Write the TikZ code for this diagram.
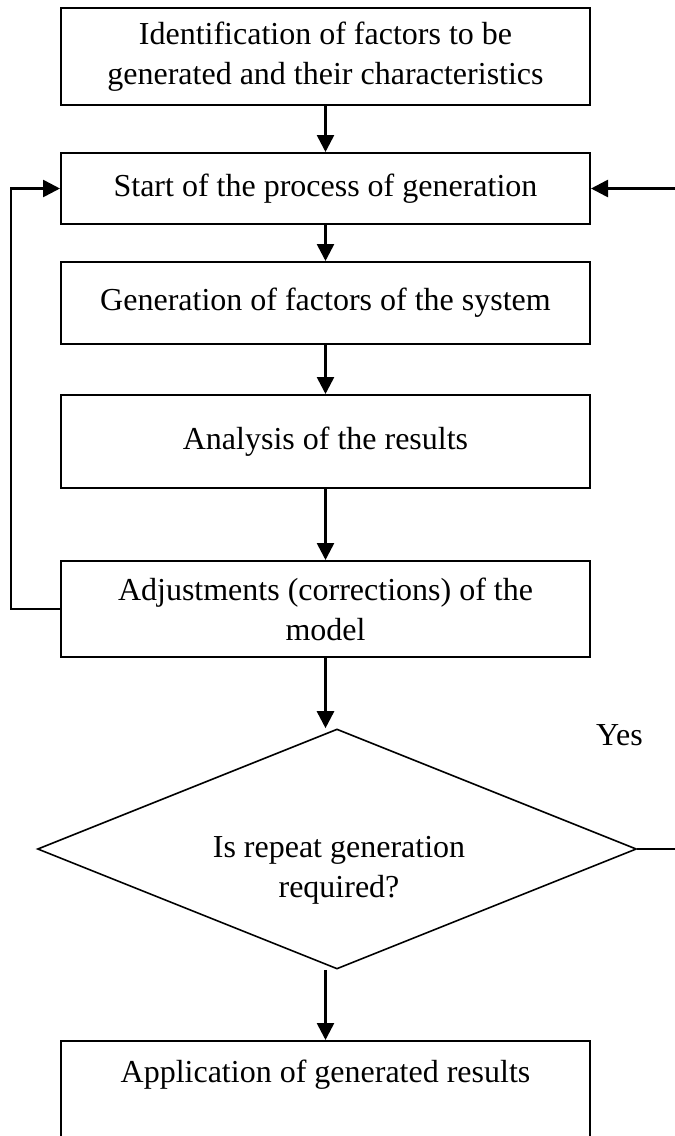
\documentclass[tikz,border=0pt]{standalone}
\usepackage{fontspec}
\setmainfont{Liberation Serif}
\usetikzlibrary{arrows.meta,shapes.geometric}
\begin{document}
\begin{tikzpicture}[x=1pt,y=-1pt,
  box/.style={draw,line width=2pt,inner sep=0pt,minimum width=529pt},
  arr/.style={line width=2.6pt,-{Triangle[length=17pt,width=17pt]}},
  txt/.style={font=\fontsize{32}{40}\selectfont,align=center}]
\useasboundingbox (0,0) rectangle (675,1136);
\path[fill=white] (0,0) rectangle (675,1136);
\node[box,txt,minimum height=97pt] (b1) at (325.5,56.5) {Identification of factors to be\\generated and their characteristics};
\node[box,txt,minimum height=71pt] (b2) at (325.5,188.5) {Start of the process of generation};
\node[box,txt,minimum height=82pt] (b3) at (325.5,303) {Generation of factors of the system};
\node[box,txt,minimum height=93pt] (b4) at (325.5,441.5) {Analysis of the results};
\node[box,txt,minimum height=96pt] (b5) at (325.5,609) {Adjustments (corrections) of the\\model};
\node[diamond,draw,line width=1.6pt,minimum width=599pt,minimum height=240pt,inner sep=0pt] (dia) at (337,849) {};
\node[txt] (diatxt) at (339,870) {Is repeat generation\\required?};
\node[box,minimum height=119pt] (b6) at (325.5,1100.5) {};
\node[txt,anchor=base] (t6) at (325.5,1082) {Application of generated results};
\node[txt] (yes) at (619.5,735) {Yes};
\draw[arr] (b1.south) -- (b2.north);
\draw[arr] (b2.south) -- (b3.north);
\draw[arr] (b3.south) -- (b4.north);
\draw[arr] (b4.south) -- (b5.north);
\draw[arr] (b5.south) -- (b5.south |- dia.north);
\draw[arr] (b5.south |- dia.south) -- (b6.north);
\draw[arr] (b5.west) -- ++(-49,0) |- (b2.west);
\draw[arr] (dia.east) -- (690,849) |- (b2.east);
\end{tikzpicture}
\end{document}
